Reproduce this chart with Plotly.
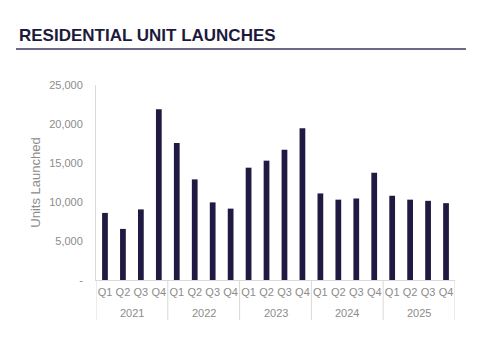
import plotly.graph_objects as go

years = ["2021"] * 4 + ["2022"] * 4 + ["2023"] * 4 + ["2024"] * 4 + ["2025"] * 4
quarters = ["Q1", "Q2", "Q3", "Q4"] * 5
units = [8600, 6550, 9050, 21900,
         17550, 12900, 9950, 9150,
         14400, 15300, 16700, 19450,
         11100, 10300, 10450, 13750,
         10800, 10300, 10150, 9850]
y_ticks = [0, 5000, 10000, 15000, 20000, 25000]
y_tick_text = ["-", "5,000", "10,000", "15,000", "20,000", "25,000"]

grey = "#8c8c8c"
line_grey = "#d9d9d9"
cats = [f"{y} {q}" for y, q in zip(years, quarters)]

# group positions derived from the data
groups = []
for i, yv in enumerate(years):
    if not groups or groups[-1][0] != yv:
        groups.append([yv, i, i])
    else:
        groups[-1][2] = i

fig = go.Figure()
fig.add_trace(go.Bar(
    x=cats, y=units,
    marker=dict(color="#1e1a42", line=dict(width=0)),
))

shapes = [dict(type="line", xref="paper", yref="paper",
               x0=-80/359, x1=370/359, y0=1 + 36/195, y1=1 + 36/195,
               line=dict(color="#6b6888", width=2))]
annotations = [dict(text="<b>RESIDENTIAL UNIT LAUNCHES</b>", xref="paper", yref="paper",
                    x=-79/359, y=1 + 38/195, xanchor="left", yanchor="bottom",
                    showarrow=False,
                    font=dict(family="Liberation Sans, Arial", size=17, color="#1c1a3c"))]
bounds = [g[1] - 0.5 for g in groups] + [groups[-1][2] + 0.5]
for b in bounds:
    shapes.append(dict(type="line", xref="x", yref="paper", x0=b, x1=b,
                       y0=0, y1=-40/195, line=dict(color=line_grey, width=1)))
for yv, s, e in groups:
    annotations.append(dict(text=yv, xref="x", yref="paper", x=(s + e) / 2,
                            y=-33/195, yanchor="middle", showarrow=False,
                            font=dict(family="Liberation Sans, Arial", size=11, color=grey)))

fig.update_layout(
    width=483, height=354,
    margin=dict(l=96, r=28, t=85, b=74),
    paper_bgcolor="white", plot_bgcolor="white",
    bargap=0.68,
    showlegend=False,
    font=dict(family="Liberation Sans, Arial", size=11, color=grey),
    xaxis=dict(
        type="category",
        range=[-0.5, len(cats) - 0.5],
        tickvals=cats, ticktext=quarters, tickangle=0,
        showline=True, linecolor=line_grey, linewidth=1,
        ticks="outside", ticklen=2, tickcolor="rgba(0,0,0,0)",
        tickfont=dict(size=11, color=grey),
        showgrid=False,
    ),
    yaxis=dict(
        range=[0, 25000],
        tickvals=y_ticks, ticktext=y_tick_text,
        showgrid=False, zeroline=False,
        showline=True, linecolor=line_grey, linewidth=1,
        ticks="outside", ticklen=10, tickcolor="rgba(0,0,0,0)",
        tickfont=dict(size=11, color=grey),
        title=dict(text="Units Launched", font=dict(size=13, color=grey), standoff=5),
    ),
    shapes=shapes,
    annotations=annotations,
)
fig.write_html("out.html")
